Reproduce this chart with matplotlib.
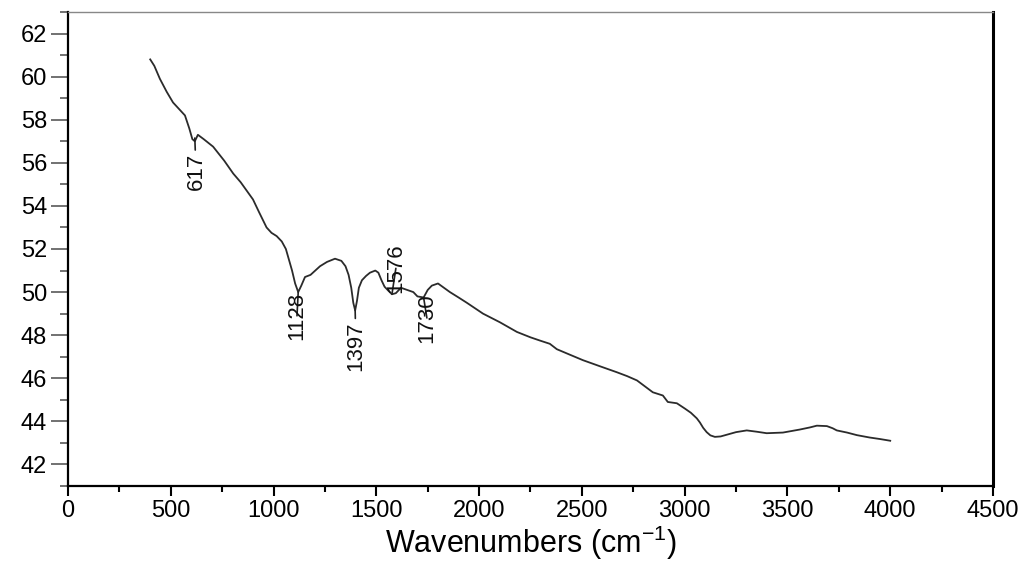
import matplotlib
matplotlib.use('Agg')
import matplotlib.pyplot as plt
from matplotlib.ticker import MultipleLocator

plt.rcParams['font.family'] = ['Liberation Sans', 'DejaVu Sans']

# FTIR spectrum
wavenumber = [400, 420, 447, 480, 511, 540, 569, 590, 605, 617, 632, 660, 706, 760, 804,
              840, 870, 900, 930, 966, 990, 1015, 1040, 1060, 1075, 1090, 1105, 1120,
              1135, 1153, 1180, 1226, 1260, 1299, 1330, 1350, 1365, 1378, 1388, 1397,
              1406, 1415, 1430, 1450, 1469, 1495, 1510, 1525, 1540, 1560, 1576, 1595,
              1620, 1650, 1680, 1700, 1730, 1750, 1770, 1800, 1858, 1900, 1941, 2019,
              2101, 2184, 2250, 2296, 2344, 2378, 2440, 2505, 2590, 2670, 2720, 2768,
              2810, 2845, 2894, 2918, 2962, 3000, 3030, 3059, 3074, 3090, 3107, 3125,
              3147, 3175, 3205, 3250, 3302, 3350, 3399, 3478, 3560, 3610, 3643, 3692,
              3720, 3740, 3790, 3838, 3900, 3950, 4000]
transmittance = [60.8, 60.5, 59.9, 59.3, 58.8, 58.5, 58.2, 57.6, 57.1, 57.0, 57.3, 57.1,
                 56.75, 56.1, 55.5, 55.1, 54.7, 54.3, 53.7, 53.0, 52.75, 52.6, 52.35,
                 52.0, 51.5, 51.0, 50.4, 50.0, 50.3, 50.7, 50.8, 51.2, 51.4, 51.55,
                 51.45, 51.2, 50.8, 50.2, 49.5, 49.15, 49.6, 50.2, 50.55, 50.75, 50.9,
                 51.0, 50.9, 50.55, 50.25, 50.05, 49.9, 49.95, 50.2, 50.1, 50.0, 49.8,
                 49.75, 50.1, 50.3, 50.4, 50.0, 49.75, 49.5, 49.0, 48.6, 48.15, 47.9,
                 47.75, 47.6, 47.35, 47.1, 46.84, 46.55, 46.28, 46.1, 45.9, 45.6, 45.35,
                 45.2, 44.9, 44.84, 44.6, 44.4, 44.14, 43.95, 43.7, 43.5, 43.35, 43.28,
                 43.3, 43.38, 43.5, 43.58, 43.52, 43.45, 43.48, 43.62, 43.72, 43.8,
                 43.78, 43.68, 43.58, 43.48, 43.36, 43.25, 43.18, 43.1]

# peak labels: (label, peak x, peak y, text x, text y)
peak_labels = ['617', '1128', '1397', '1576', '1730']
peak_x = [617, 1120, 1397, 1576, 1730]
peak_y = [57.15, 50.0, 49.15, 49.9, 49.75]
text_x = [623, 1114, 1401, 1595, 1746]
text_y = [55.6, 48.9, 47.5, 51.1, 48.8]

fig = plt.figure(figsize=(10.27, 5.61), dpi=100)
ax = fig.add_axes([0.0662, 0.1337, 0.9007, 0.8449])

ax.plot(wavenumber, transmittance, color='#2b2b2b', lw=1.3)

for lab, px, py, tx, ty in zip(peak_labels, peak_x, peak_y, text_x, text_y):
    ax.annotate(lab, xy=(px, py), xytext=(tx, ty), rotation=90,
                ha='center', va='center', fontsize=16, color='#111111',
                arrowprops=dict(arrowstyle='-', color='#222222', lw=1.2,
                                shrinkA=0, shrinkB=0))

ax.set_xlim(0, 4500)
ax.set_ylim(41, 63)
ax.xaxis.set_major_locator(MultipleLocator(500))
ax.xaxis.set_minor_locator(MultipleLocator(250))
ax.yaxis.set_major_locator(MultipleLocator(2))
ax.yaxis.set_minor_locator(MultipleLocator(1))
ax.set_yticks(range(42, 63, 2))

ax.tick_params(axis='x', which='major', direction='out', length=7, width=1.5,
               labelsize=17, pad=3)
ax.tick_params(axis='x', which='minor', direction='out', length=4, width=1.5)
ax.tick_params(axis='y', which='major', direction='out', length=12, width=1.3,
               labelsize=17, pad=3, color='#666666')
ax.tick_params(axis='y', which='minor', direction='out', length=6, width=1.3,
               color='#666666')

ax.spines['left'].set_linewidth(1.6)
ax.spines['bottom'].set_linewidth(1.6)
ax.spines['right'].set_linewidth(2.2)
ax.spines['top'].set_linewidth(1.0)
ax.spines['top'].set_color('#888888')

ax.set_xlabel('Wavenumbers (cm$^{\\mathregular{-1}}$)', fontsize=22, labelpad=1)

fig.savefig('out.png', dpi=100)
